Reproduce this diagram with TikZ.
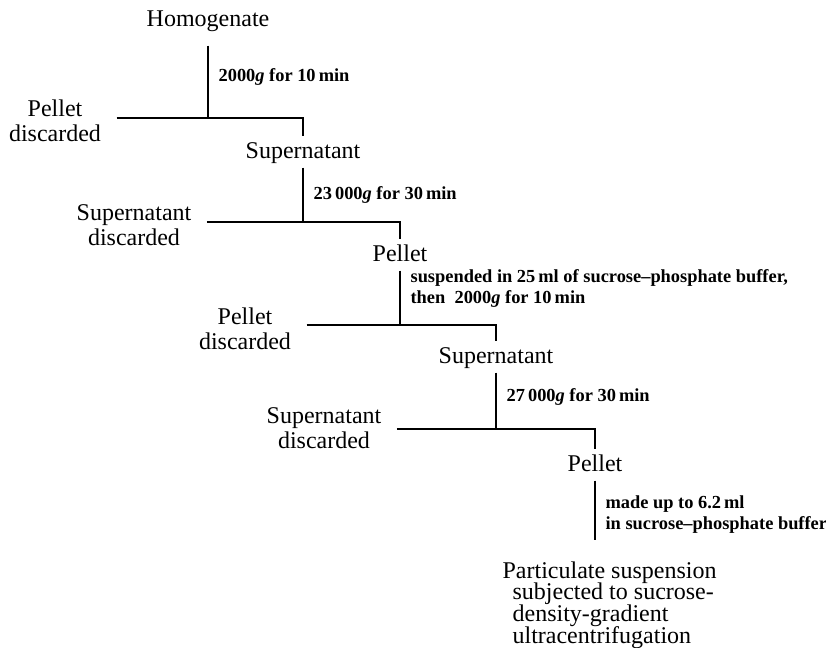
\documentclass[tikz,border=0pt]{standalone}
\usepackage{fontspec}
\setmainfont{Liberation Serif}
\usepackage{tikz}

\tikzset{
  fraction/.style={inner xsep=2pt, inner ysep=2pt, text height=8.5pt, text depth=2.5pt, font=\fontsize{12}{12.5}\selectfont},
  discard/.style={align=center, inner xsep=7.5pt, inner ysep=2pt, font=\fontsize{12}{12.5}\selectfont},
  spin/.style={anchor=west, inner sep=0pt, xshift=5pt, align=left, font=\fontsize{9.2}{10.5}\selectfont\bfseries},
  final/.style={anchor=north west, inner sep=0pt, align=left, font={\fontsize{12}{10.8}\selectfont\setlength{\lineskiplimit}{-10pt}}},
}

\begin{document}
\begin{tikzpicture}[x=0.5pt, y=-0.5pt, line width=0.6pt]
    \useasboundingbox (0,0) rectangle (826,648);

    % First spin
    \node[fraction] (hom) at (208,20) {Homogenate};
    \node[discard] (dis1) at (55,121) {Pellet\\discarded};
    \node[fraction] (sup1) at (303,152) {Supernatant};
    \coordinate (s1) at (208,118);
    \draw[shorten <=5pt] (hom.south) -- (s1) node[spin, midway] (l1) {2000\textit{g} for 10\,min};
    \draw (dis1.east |- s1) -- (s1 -| sup1) -- (sup1.north);

    % Second spin
    \node[discard] (dis2) at (134,225) {Supernatant\\discarded};
    \node[fraction] (pel1) at (400,255) {Pellet};
    \coordinate (s2) at (303,222);
    \draw (sup1.south) -- (s2) node[spin, midway] (l2) {23\,000\textit{g} for 30\,min};
    \draw (dis2.east |- s2) -- (s2 -| pel1) -- (pel1.north);

    % Third spin
    \node[discard] (dis3) at (245,329) {Pellet\\discarded};
    \node[fraction] (sup2) at (496,357) {Supernatant};
    \coordinate (s3) at (400,325);
    \draw (pel1.south) -- (s3) node[spin, pos=0.33] (l3) {suspended in 25\,ml of sucrose--phosphate buffer,\\then\ \ 2000\textit{g} for 10\,min};
    \draw (dis3.east |- s3) -- (s3 -| sup2) -- (sup2.north);

    % Fourth spin
    \node[discard] (dis4) at (324,428) {Supernatant\\discarded};
    \node[fraction] (pel2) at (595,465) {Pellet};
    \coordinate (s4) at (496,429);
    \draw (sup2.south) -- (s4) node[spin, pos=0.43] (l4) {27\,000\textit{g} for 30\,min};
    \draw (dis4.east |- s4) -- (s4 -| pel2) -- (pel2.north);

    % Final suspension
    \node[final] (fin) at (502,561) {Particulate suspension\\\hspace*{5pt}subjected to sucrose-\\\hspace*{5pt}density-gradient\\\hspace*{5pt}ultracentrifugation};
    \draw[shorten >=10.5pt] (pel2.south) -- (pel2.south |- fin.north) node[spin, pos=0.42] (l5) {made up to 6.2\,ml\\in sucrose--phosphate buffer};
\end{tikzpicture}
\end{document}
